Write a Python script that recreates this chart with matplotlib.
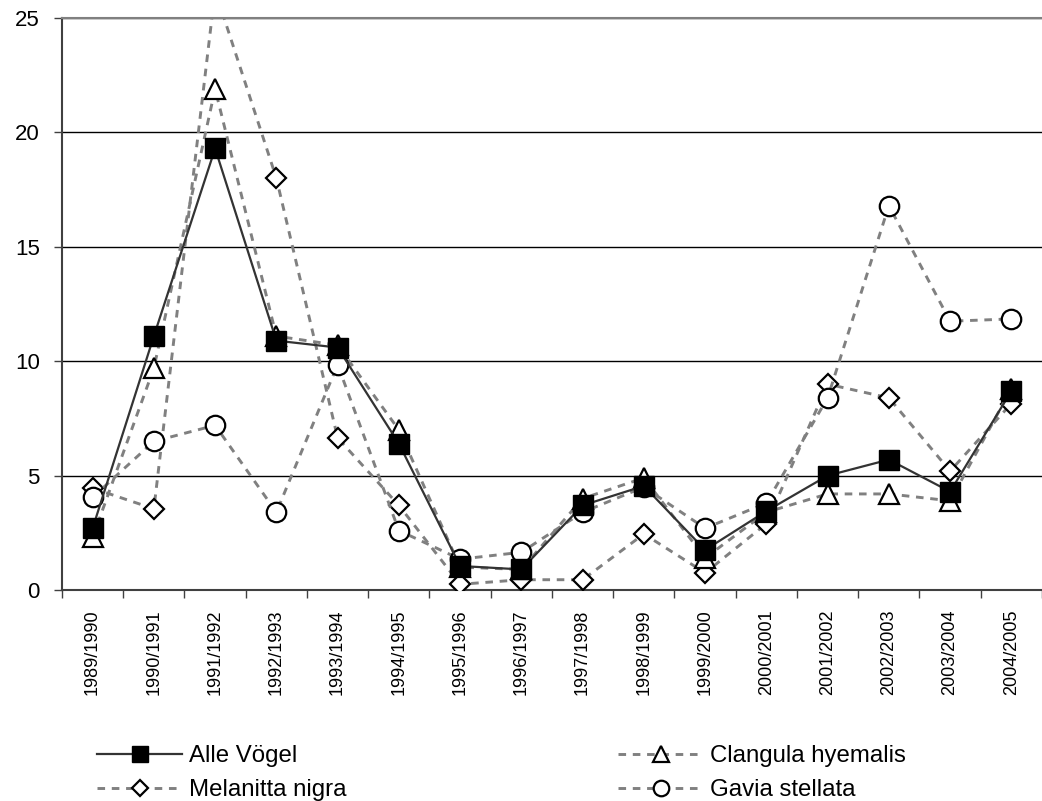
import matplotlib.pyplot as plt
import numpy as np

plt.rcParams['font.family'] = ['Liberation Sans', 'DejaVu Sans']

# Data.
seasons = ["1989/1990", "1990/1991", "1991/1992", "1992/1993", "1993/1994",
           "1994/1995", "1995/1996", "1996/1997", "1997/1998", "1998/1999",
           "1999/2000", "2000/2001", "2001/2002", "2002/2003", "2003/2004",
           "2004/2005"]
alle_voegel = [2.7, 11.1, 19.3, 10.9, 10.6, 6.4, 1.05, 0.9, 3.7, 4.55,
               1.75, 3.45, 5.0, 5.7, 4.3, 8.7]
clangula = [2.3, 9.7, 21.9, 11.1, 10.7, 7.0, 1.0, 0.9, 4.0, 4.9,
            1.4, 3.4, 4.2, 4.2, 3.9, 8.8]
melanitta = [4.45, 3.55, 26.2, 18.0, 6.65, 3.7, 0.25, 0.45, 0.45, 2.45,
             0.75, 2.9, 9.0, 8.4, 5.2, 8.15]
gavia = [4.05, 6.5, 7.2, 3.4, 9.85, 2.6, 1.35, 1.65, 3.4, 4.5,
         2.7, 3.8, 8.4, 16.8, 11.75, 11.85]

x = np.arange(len(seasons))
gray = "#808080"
dash = (0, (2.6, 2.3))

# Create figure.
fig = plt.figure(figsize=(10.42, 8.01), dpi=100)
ax = fig.add_axes([0.0595, 0.2634, 0.9405, 0.714])

ax.plot(x, alle_voegel, color="#333333", lw=1.6, marker="s", ms=15,
        mfc="black", mec="black", label="Alle Vögel", zorder=5)
ax.plot(x, clangula, color=gray, lw=2.1, ls=dash, marker="^", ms=14,
        mfc="white", mec="black", mew=1.6, label="Clangula hyemalis", zorder=4)
ax.plot(x, melanitta, color=gray, lw=2.1, ls=dash, marker="D", ms=10,
        mfc="white", mec="black", mew=1.6, label="Melanitta nigra", zorder=3)
ax.plot(x, gavia, color=gray, lw=2.1, ls=dash, marker="o", ms=14,
        mfc="white", mec="black", mew=1.6, label="Gavia stellata", zorder=4)

# Axes.
ax.set_xlim(-0.5, len(seasons) - 0.5)
ax.set_ylim(0, 25)
ax.set_yticks(range(0, 26, 5))
ax.set_xticks(x)
ax.set_xticklabels(seasons, rotation=90, fontsize=13)
ax.set_xticks(np.arange(-0.5, len(seasons)), minor=True)
ax.tick_params(axis="x", which="major", length=0, pad=14)
ax.tick_params(axis="x", which="minor", length=6, width=1, color="#404040")
ax.tick_params(axis="y", length=6, width=1, color="#404040", labelsize=16, pad=10)
ax.yaxis.grid(True, color="black", lw=1)
ax.set_axisbelow(True)
for side in ["left", "bottom"]:
    ax.spines[side].set_color("#404040")
    ax.spines[side].set_linewidth(1.5)
ax.spines["top"].set_color(gray)
ax.spines["top"].set_linewidth(1.5)
ax.spines["right"].set_visible(False)

# Legend.
handles, labels = ax.get_legend_handles_labels()
order = [0, 2, 1, 3]
fig.legend([handles[i] for i in order], [labels[i] for i in order],
           ncol=2, loc="lower left", bbox_to_anchor=(0.093, 0.0),
           frameon=False, fontsize=17.3, handlelength=3.55, numpoints=1,
           markerscale=0.8, columnspacing=11.3, labelspacing=0.5,
           handletextpad=0.28, borderpad=0, borderaxespad=0)

fig.savefig("out.png", dpi=100)
